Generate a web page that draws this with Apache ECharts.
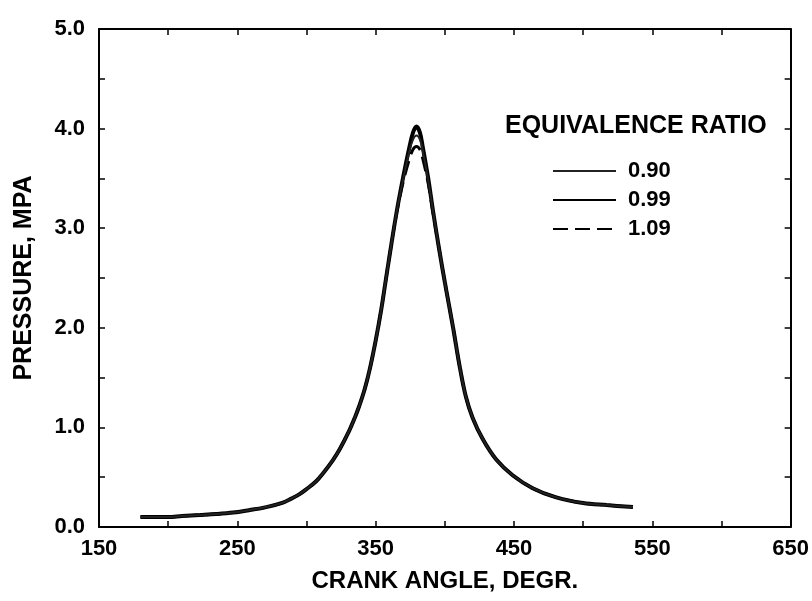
<!DOCTYPE html>
<html>
<head>
<meta charset="utf-8">
<script src="https://cdn.jsdelivr.net/npm/echarts@6/dist/echarts.min.js"></script>
<style>
html,body{margin:0;padding:0;background:#fff;}
#chart{width:812px;height:601px;}
</style>
</head>
<body>
<div id="chart"></div>
<script>
// ---- data ----
const seriesNames = ['0.90', '0.99', '1.09'];
const crankAngle = [180,190,200,210,223,235,247,259,271,283,289,295,300,307,312,319,324,331,335,338,342,346,350,354,357,360,365,370,374.5,377,379.5,382,384,388,391.5,396,401,406,410.5,415,420,427.5,437,449,463.5,480,500,517,536];
const pressure090 = [0.10,0.10,0.10,0.11,0.12,0.13,0.145,0.17,0.20,0.245,0.285,0.33,0.38,0.46,0.54,0.67,0.78,0.97,1.10,1.21,1.38,1.60,1.87,2.18,2.45,2.72,3.15,3.50,3.78,3.89,3.93,3.89,3.78,3.48,3.17,2.78,2.38,2.00,1.63,1.32,1.10,0.88,0.68,0.52,0.39,0.30,0.24,0.22,0.20];
const pressure099 = [0.10,0.10,0.10,0.11,0.12,0.13,0.145,0.17,0.20,0.245,0.285,0.33,0.38,0.46,0.54,0.67,0.78,0.97,1.10,1.21,1.38,1.60,1.87,2.18,2.45,2.72,3.15,3.52,3.82,3.96,4.02,3.96,3.82,3.50,3.17,2.78,2.38,2.00,1.63,1.32,1.10,0.88,0.68,0.52,0.39,0.30,0.24,0.22,0.20];
const pressure109 = [0.10,0.10,0.10,0.11,0.12,0.13,0.145,0.17,0.20,0.245,0.285,0.33,0.38,0.46,0.54,0.67,0.78,0.97,1.10,1.21,1.38,1.60,1.87,2.18,2.45,2.72,3.14,3.47,3.70,3.79,3.82,3.79,3.70,3.45,3.15,2.78,2.38,2.00,1.63,1.32,1.10,0.88,0.68,0.52,0.39,0.30,0.24,0.22,0.20];
const xTickLabels = [150, 250, 350, 450, 550, 650];
const yTickLabels = ['0.0', '1.0', '2.0', '3.0', '4.0', '5.0'];
const legendTitle = 'EQUIVALENCE RATIO';
const xTitle = 'CRANK ANGLE, DEGR.';
const yTitle = 'PRESSURE, MPA';

function pairs(xs, ys) { return xs.map((x, i) => [x, ys[i]]); }

const FONT = "'Liberation Sans', Arial, Helvetica, sans-serif";
const chart = echarts.init(document.getElementById('chart'), null, {renderer: 'canvas'});

const axisCommon = {
  axisLine: {show: true, onZero: false, lineStyle: {color: '#000', width: 2}},
  axisTick: {show: true, inside: true, length: 6, lineStyle: {color: '#000', width: 1.5}},
  splitLine: {show: false}
};

const option = {
  backgroundColor: '#fff',
  animation: false,
  color: ['#000', '#000', '#000'],
  grid: {left: 99, right: 21, top: 29, bottom: 74, containLabel: false},
  xAxis: [
    Object.assign({}, axisCommon, {
      type: 'value', min: 150, max: 650, interval: 50, position: 'bottom',
      axisLabel: {
        color: '#000', fontFamily: FONT, fontWeight: 'bold', fontSize: 22, margin: 11,
        formatter: v => (xTickLabels.indexOf(Math.round(v)) >= 0 ? String(Math.round(v)) : '')
      },
      name: xTitle, nameLocation: 'middle', nameGap: 42,
      nameTextStyle: {color: '#000', fontFamily: FONT, fontWeight: 'bold', fontSize: 24}
    }),
    Object.assign({}, axisCommon, {
      type: 'value', min: 150, max: 650, interval: 50, position: 'top',
      axisLabel: {show: false}
    })
  ],
  yAxis: [
    Object.assign({}, axisCommon, {
      type: 'value', min: 0, max: 5, interval: 0.5, position: 'left',
      axisLabel: {
        color: '#000', fontFamily: FONT, fontWeight: 'bold', fontSize: 22, margin: 14,
        formatter: v => {
          const s = v.toFixed(1);
          return yTickLabels.indexOf(s) >= 0 ? s : '';
        }
      },
      name: yTitle, nameLocation: 'middle', nameGap: 62,
      nameTextStyle: {color: '#000', fontFamily: FONT, fontWeight: 'bold', fontSize: 25}
    }),
    Object.assign({}, axisCommon, {
      type: 'value', min: 0, max: 5, interval: 0.5, position: 'right',
      axisLabel: {show: false}
    })
  ],
  legend: {
    orient: 'vertical', left: 552, top: 160, padding: 0,
    itemWidth: 63, itemHeight: 14, itemGap: 7,
    data: [seriesNames[0], seriesNames[1], seriesNames[2]],
    itemStyle: {opacity: 0},
    textStyle: {color: '#000', fontFamily: FONT, fontWeight: 'bold', fontSize: 22, padding: [0, 0, 0, 7]},
    selectedMode: false
  },
  graphic: [{
    type: 'text', left: 505, top: 114,
    style: {text: legendTitle, font: "bold 25px " + FONT, fill: '#000'}
  }],
  series: [
    {
      name: seriesNames[1], type: 'line', data: pairs(crankAngle, pressure099),
      smooth: 0.35, showSymbol: false, symbol: 'none', z: 2,
      itemStyle: {color: '#000'},
      lineStyle: {color: '#000', width: 4}
    },
    {
      name: seriesNames[2], type: 'line', data: pairs(crankAngle, pressure109),
      smooth: 0.35, showSymbol: false, symbol: 'none', z: 3,
      itemStyle: {color: '#000'},
      lineStyle: {color: '#000', width: 3, type: [15, 7]}
    },
    {
      name: seriesNames[0], type: 'line', data: pairs(crankAngle, pressure090),
      smooth: 0.35, showSymbol: false, symbol: 'none', z: 4,
      itemStyle: {color: '#000'},
      lineStyle: {color: '#222', width: 2}
    }
  ]
};
chart.setOption(option);
</script>
</body>
</html>
